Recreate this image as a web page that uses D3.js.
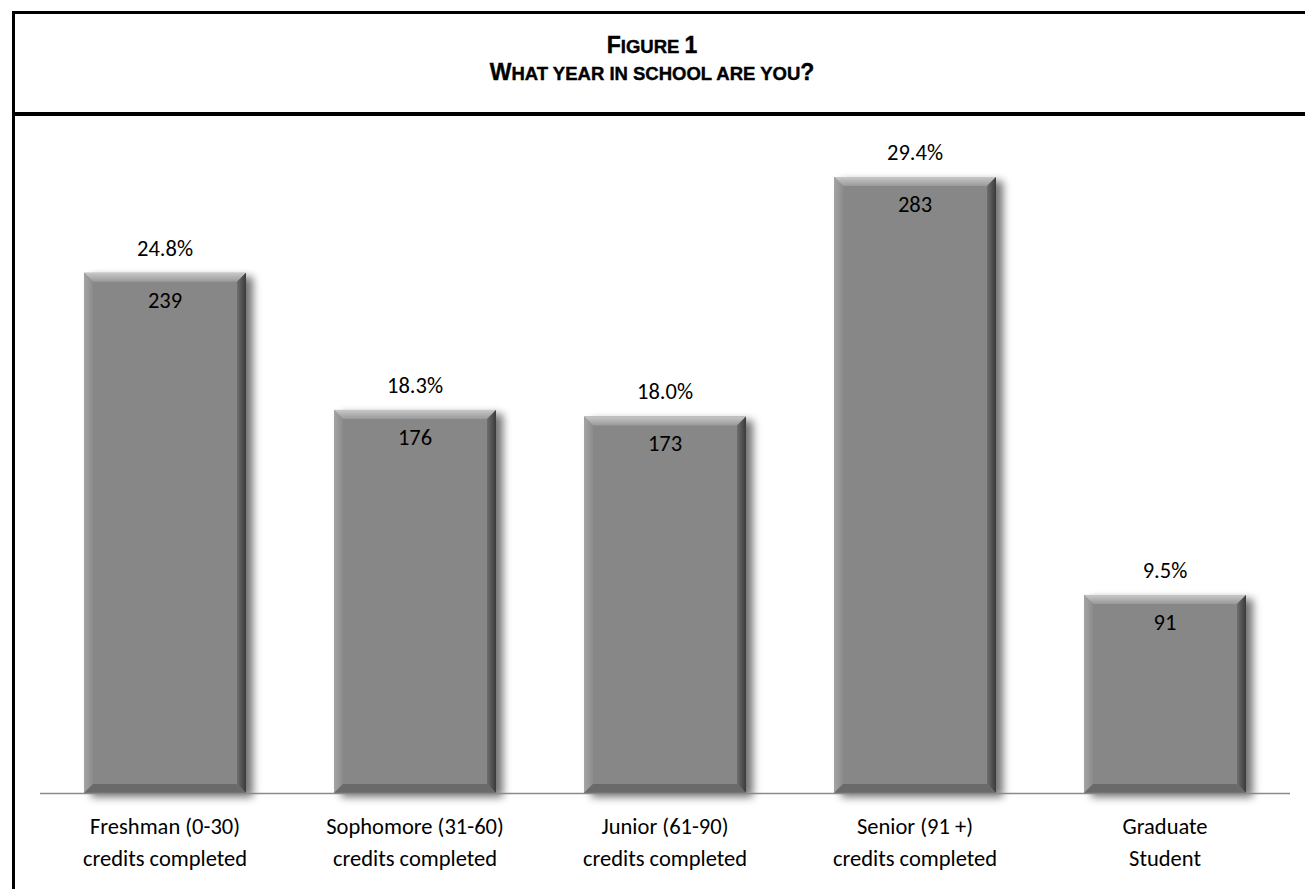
<!DOCTYPE html>
<html>
<head>
<meta charset="UTF-8">
<title>What year in school are you?</title>
<script src="https://d3js.org/d3.v7.min.js"></script>
<style>
body { margin:0; background:white; }
</style>
</head>
<body>
<script type="text/javascript">
var categories = [
  ["Freshman (0-30)", "credits completed"],
  ["Sophomore (31-60)", "credits completed"],
  ["Junior (61-90)", "credits completed"],
  ["Senior (91 +)", "credits completed"],
  ["Graduate", "Student"]
]
var counts = [239, 176, 173, 283, 91]
var percents = ["24.8%", "18.3%", "18.0%", "29.4%", "9.5%"]

var W = 1305, H = 889
var labelFont = "Carlito, Calibri, 'Open Sans', sans-serif"
var labelSize = "22.5px"

var svg = d3.select("body")
  .append("svg")
  .attr("width", W)
  .attr("height", H)
  .style("background", "white")

var defs = svg.append("defs")
var f = defs.append("filter").attr("id", "shadow")
  .attr("x", "-20%").attr("y", "-10%").attr("width", "150%").attr("height", "130%")
f.append("feGaussianBlur").attr("in", "SourceAlpha").attr("stdDeviation", 4.5)
f.append("feOffset").attr("dx", 7).attr("dy", 4).attr("result", "off")
f.append("feComponentTransfer").append("feFuncA").attr("type", "linear").attr("slope", 0.55)
var fm = f.append("feMerge")
fm.append("feMergeNode")
fm.append("feMergeNode").attr("in", "SourceGraphic")

var gTop = defs.append("linearGradient").attr("id", "bevTop").attr("x1", 0).attr("y1", 0).attr("x2", 0).attr("y2", 1)
gTop.append("stop").attr("offset", "0%").attr("stop-color", "#c8c8c8")
gTop.append("stop").attr("offset", "100%").attr("stop-color", "#9a9a9a")
var gRight = defs.append("linearGradient").attr("id", "bevRight").attr("x1", 0).attr("y1", 0).attr("x2", 1).attr("y2", 0)
gRight.append("stop").attr("offset", "0%").attr("stop-color", "#6e6e6e")
gRight.append("stop").attr("offset", "100%").attr("stop-color", "#3a3a3a")
var gLeft = defs.append("linearGradient").attr("id", "bevLeft").attr("x1", 0).attr("y1", 0).attr("x2", 1).attr("y2", 0)
gLeft.append("stop").attr("offset", "0%").attr("stop-color", "#a4a4a4")
gLeft.append("stop").attr("offset", "100%").attr("stop-color", "#8c8c8c")

// frame
svg.append("line").attr("x1", 13.5).attr("x2", W).attr("y1", 12.5).attr("y2", 12.5)
  .attr("stroke", "black").attr("stroke-width", 3)
svg.append("line").attr("x1", 13.5).attr("x2", 13.5).attr("y1", 11).attr("y2", H)
  .attr("stroke", "black").attr("stroke-width", 3)
svg.append("line").attr("x1", 13.5).attr("x2", W).attr("y1", 114).attr("y2", 114)
  .attr("stroke", "black").attr("stroke-width", 4)

// title, drawn as small caps by hand: big first letters, smaller upper case after
var titleLines = [
  [["F", 23], ["IGURE ", 18.5], ["1", 23]],
  [["W", 23], ["HAT YEAR IN SCHOOL ARE YOU", 18.5], ["?", 23]]
]
var titleY = [53, 80]
titleLines.forEach(function(parts, li) {
  var t = svg.append("text")
    .attr("x", 652).attr("y", titleY[li])
    .attr("text-anchor", "middle")
    .style("font-family", "'Liberation Sans', Arial, sans-serif")
    .style("font-weight", "bold")
    .attr("stroke", "black").attr("stroke-width", 0.4)
  parts.forEach(function(p) {
    t.append("tspan").style("font-size", p[1] + "px").text(p[0])
  })
})

var x = d3.scaleBand()
  .domain(d3.range(categories.length))
  .range([40, 1290])
  .paddingInner(0.352)
  .paddingOuter(0.176)

var y = d3.scaleLinear().domain([0, 300]).range([793, 140])

var bev = 9
var bars = svg.selectAll("g.bar")
  .data(counts).enter()
  .append("g").attr("class", "bar")

bars.append("rect")
  .attr("x", function(d, i) { return x(i) })
  .attr("y", function(d) { return y(d) })
  .attr("width", x.bandwidth())
  .attr("height", function(d) { return y(0) - y(d) })
  .attr("fill", "#878787")
  .attr("filter", "url(#shadow)")

function pts(a) { return a.map(function(p) { return p.join(",") }).join(" ") }

// bevels
bars.append("polygon").attr("fill", "url(#bevTop)")
  .attr("points", function(d, i) {
    var x0 = x(i), x1 = x(i) + x.bandwidth(), t = y(d)
    return pts([[x0, t], [x1, t], [x1 - bev, t + bev], [x0 + bev, t + bev]])
  })
bars.append("polygon").attr("fill", "url(#bevLeft)")
  .attr("points", function(d, i) {
    var x0 = x(i), t = y(d), b = y(0)
    return pts([[x0, t], [x0 + bev, t + bev], [x0 + bev, b - bev], [x0, b]])
  })
bars.append("polygon").attr("fill", "url(#bevRight)")
  .attr("points", function(d, i) {
    var x1 = x(i) + x.bandwidth(), t = y(d), b = y(0)
    return pts([[x1, t], [x1, b], [x1 - bev, b - bev], [x1 - bev, t + bev]])
  })
bars.append("polygon").attr("fill", "#6a6a6a")
  .attr("points", function(d, i) {
    var x0 = x(i), x1 = x(i) + x.bandwidth(), b = y(0)
    return pts([[x0, b], [x0 + bev, b - bev], [x1 - bev, b - bev], [x1, b]])
  })

// axis line
svg.append("line").attr("x1", 40).attr("x2", 1290).attr("y1", y(0) + 0.5).attr("y2", y(0) + 0.5)
  .attr("stroke", "#8a8a8a").attr("stroke-width", 1.5)

// labels
bars.append("text")
  .attr("x", function(d, i) { return x(i) + x.bandwidth() / 2 })
  .attr("y", function(d) { return y(d) - 17 })
  .attr("text-anchor", "middle")
  .style("font-family", labelFont).style("font-size", labelSize).attr("fill", "#000")
  .text(function(d, i) { return percents[i] })

bars.append("text")
  .attr("x", function(d, i) { return x(i) + x.bandwidth() / 2 })
  .attr("y", function(d) { return y(d) + 35 })
  .attr("text-anchor", "middle")
  .style("font-family", labelFont).style("font-size", labelSize).attr("fill", "#000")
  .text(function(d) { return d })

var cat = svg.selectAll("text.cat")
  .data(categories).enter()
  .append("text").attr("class", "cat")
  .attr("text-anchor", "middle")
  .style("font-family", labelFont).style("font-size", labelSize).attr("fill", "#000")
cat.append("tspan")
  .attr("x", function(d, i) { return x(i) + x.bandwidth() / 2 })
  .attr("y", 834)
  .text(function(d) { return d[0] })
cat.append("tspan")
  .attr("x", function(d, i) { return x(i) + x.bandwidth() / 2 })
  .attr("y", 866)
  .text(function(d) { return d[1] })
</script>
</body>
</html>
